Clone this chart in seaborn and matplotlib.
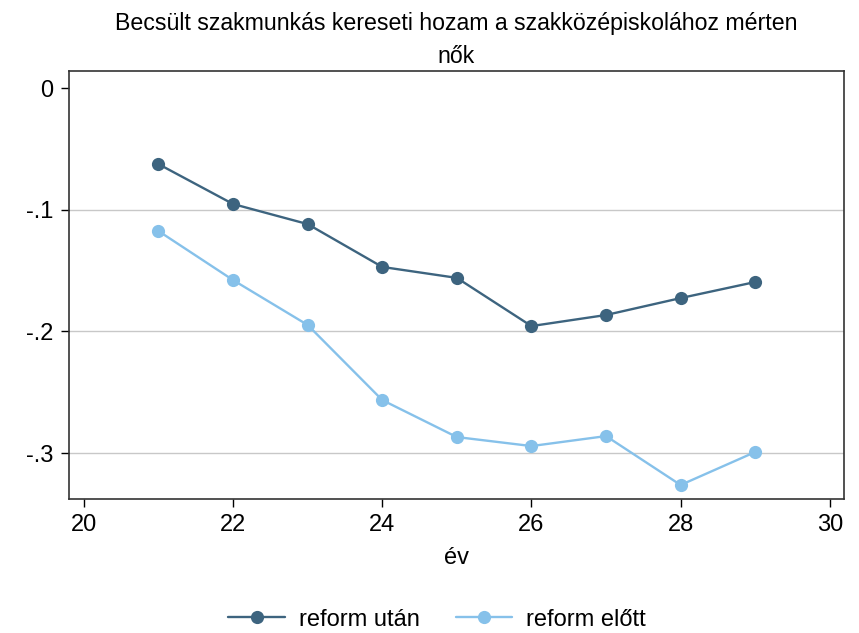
import pandas as pd
import numpy as np
import matplotlib
matplotlib.use('Agg')
import matplotlib.pyplot as plt
import seaborn as sns

ev = [21, 22, 23, 24, 25, 26, 27, 28, 29]
reform_utan = [-0.0625, -0.0953, -0.1118, -0.1470, -0.1560, -0.1956, -0.1865, -0.1726, -0.1594]
reform_elott = [-0.1175, -0.1578, -0.1947, -0.2564, -0.2868, -0.2942, -0.2860, -0.3262, -0.2991]
series_names = ['reform után', 'reform előtt']
x_ticks = [20, 22, 24, 26, 28, 30]
y_ticks = [0, -0.1, -0.2, -0.3]
y_tick_labels = ['0', '-.1', '-.2', '-.3']

sns.set_style('white')
plt.rcParams['font.family'] = ['Liberation Sans', 'DejaVu Sans']
plt.rcParams['text.color'] = 'black'

df = pd.DataFrame({
    'év': ev * 2,
    'hozam': reform_utan + reform_elott,
    'csoport': [series_names[0]] * len(ev) + [series_names[1]] * len(ev)
})

fig = plt.figure(figsize=(8.59, 6.33), dpi=100)
ax = fig.add_axes([0.0803, 0.2117, 0.9022, 0.6761])

for yv in y_ticks[1:]:
    ax.axhline(yv, color='#c8c8c8', lw=1.0, zorder=0)

sns.lineplot(data=df, x='év', y='hozam', hue='csoport', hue_order=series_names,
             palette=['#3d647f', '#86c1ea'], marker='o', markersize=9.5,
             markeredgewidth=0, linewidth=1.7, ax=ax, legend=False)

ax.set_xlim(19.8, 30.19)
ax.set_ylim(-0.3377, 0.014)
ax.set_xticks(x_ticks)
ax.set_yticks(y_ticks)
ax.set_yticklabels(y_tick_labels)
ax.tick_params(axis='both', direction='out', length=6, width=1.0, labelsize=17,
               colors='black', left=True, bottom=True, pad=5)
for s in ax.spines.values():
    s.set_color('#333333')
    s.set_linewidth(1.2)
ax.set_xlabel('év', fontsize=17, labelpad=8, color='black')
ax.set_ylabel('')
ax.set_title('Becsült szakmunkás kereseti hozam a szakközépiskolához mérten\nnők',
             fontsize=16.7, pad=6, linespacing=1.55, color='black')

handles = [plt.Line2D([], [], color=c, marker='o', markersize=9.5, markeredgewidth=0, lw=1.7)
           for c in ['#3d647f', '#86c1ea']]
fig.legend(handles, series_names, loc='lower center', bbox_to_anchor=(0.509, -0.03),
           ncol=2, frameon=False, fontsize=17, handlelength=2.4, columnspacing=1.5,
           handletextpad=0.6)

fig.savefig('out.png', dpi=100)
